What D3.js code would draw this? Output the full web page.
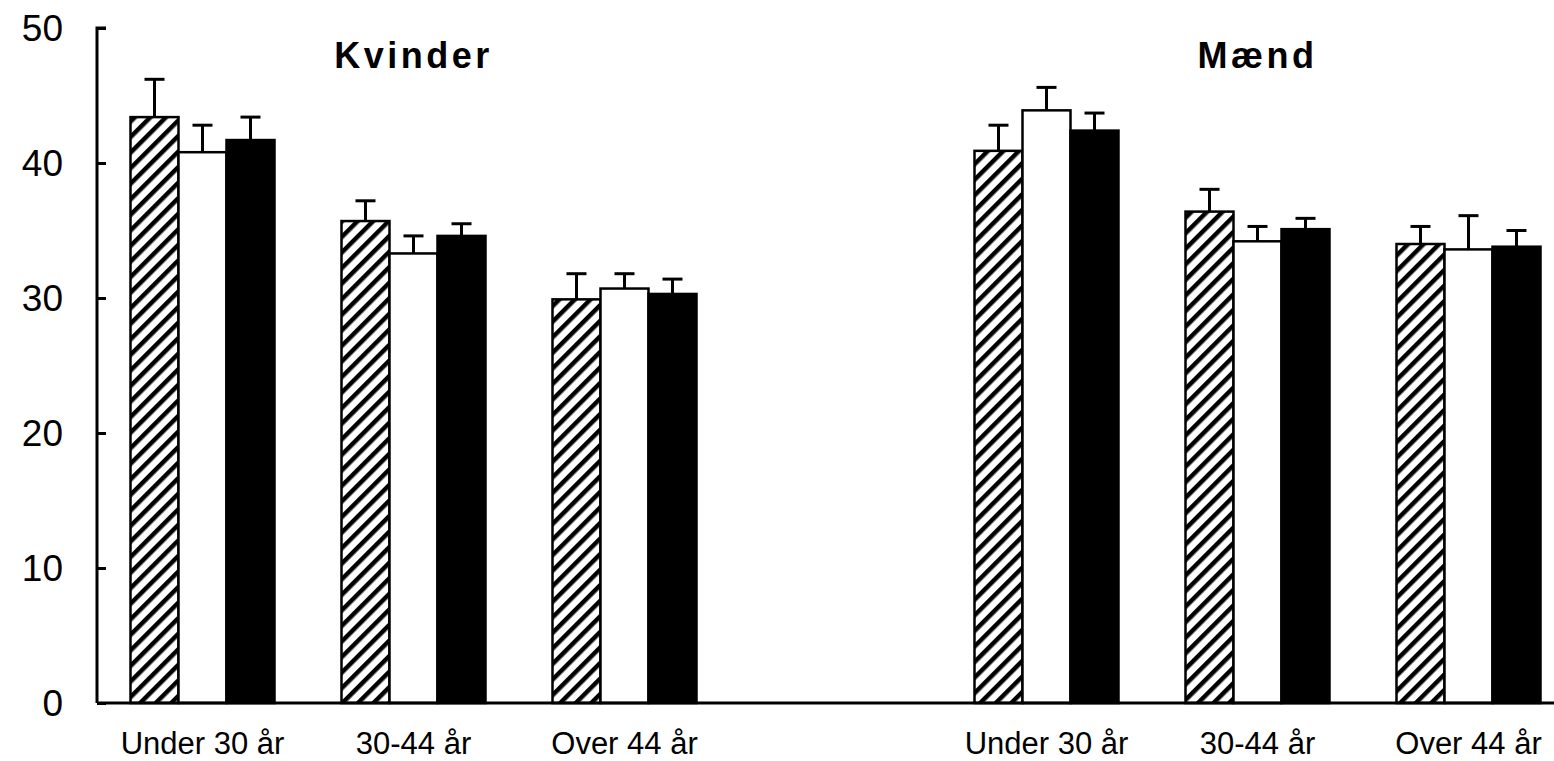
<!DOCTYPE html>
<html>
<head>
<meta charset="utf-8">
<script src="https://cdn.jsdelivr.net/npm/d3@7"></script>
<style>
  body { margin: 0; background: #fff; }
  svg { display: block; font-family: Arial, 'Liberation Sans', sans-serif; }
</style>
</head>
<body>
<div id="chart"></div>
<script>
// data
const panels = ['Kvinder', 'Mænd'];
const ageGroups = ['Under 30 år', '30-44 år', 'Over 44 år'];
const seriesKeys = ['hatched', 'white', 'black'];

// mean values, one array per panel, per series (order = ageGroups)
const kvinderHatched = [43.4, 35.7, 29.9];
const kvinderWhite = [40.8, 33.3, 30.7];
const kvinderBlack = [41.7, 34.6, 30.3];
const maendHatched = [40.9, 36.4, 34.0];
const maendWhite = [43.9, 34.2, 33.6];
const maendBlack = [42.4, 35.1, 33.8];

// error bar (upper) sizes
const kvinderHatchedErr = [2.8, 1.5, 1.9];
const kvinderWhiteErr = [2.0, 1.3, 1.1];
const kvinderBlackErr = [1.7, 0.9, 1.1];
const maendHatchedErr = [1.9, 1.65, 1.3];
const maendWhiteErr = [1.7, 1.1, 2.5];
const maendBlackErr = [1.3, 0.8, 1.2];

const yTicks = [0, 10, 20, 30, 40, 50];

const values = {
	Kvinder: { hatched: kvinderHatched, white: kvinderWhite, black: kvinderBlack },
	Mænd: { hatched: maendHatched, white: maendWhite, black: maendBlack },
};
const errors = {
	Kvinder: { hatched: kvinderHatchedErr, white: kvinderWhiteErr, black: kvinderBlackErr },
	Mænd: { hatched: maendHatchedErr, white: maendWhiteErr, black: maendBlackErr },
};

// slots: 3 groups, an empty gap, 3 groups
const slots = [];
panels.forEach((p, i) => {
	ageGroups.forEach((a) => slots.push(p + '|' + a));
	if (i === 0) slots.push('gap');
});

const rows = [];
panels.forEach((p) => {
	ageGroups.forEach((a, i) => {
		seriesKeys.forEach((s) => {
			rows.push({ panel: p, age: a, series: s, value: values[p][s][i], err: errors[p][s][i] });
		});
	});
});

const width = 1554, height = 761;
const axisX = 97;

const svg = d3.select('#chart')
	.append('svg')
	.attr('width', width)
	.attr('height', height);

// hatch pattern
svg.append('defs')
	.append('pattern')
	.attr('id', 'hatch')
	.attr('patternUnits', 'userSpaceOnUse')
	.attr('width', 11)
	.attr('height', 11)
	.attr('patternTransform', 'rotate(45)')
	.append('rect')
	.attr('width', 4.5)
	.attr('height', 11)
	.attr('fill', '#000');

const x0 = d3.scaleBand()
	.domain(slots)
	.range([axisX, 1574])
	.paddingInner(0.3175)
	.paddingOuter(0.3175 / 2);

const x1 = d3.scaleBand()
	.domain(seriesKeys)
	.range([0, x0.bandwidth()]);

const y = d3.scaleLinear()
	.domain([0, 50])
	.range([703, 28]);

const fills = { hatched: 'url(#hatch)', white: '#fff', black: '#000' };

// error bars (drawn first so bar outlines sit on top)
const eb = svg.append('g')
	.selectAll('g')
	.data(rows)
	.join('g')
	.attr('transform', (d) => `translate(${x0(d.panel + '|' + d.age) + x1(d.series) + x1.bandwidth() / 2},0)`);
eb.append('line')
	.attr('y1', (d) => y(d.value))
	.attr('y2', (d) => y(d.value + d.err))
	.attr('stroke', '#000')
	.attr('stroke-width', 3);
eb.append('line')
	.attr('x1', -10)
	.attr('x2', 10)
	.attr('y1', (d) => y(d.value + d.err))
	.attr('y2', (d) => y(d.value + d.err))
	.attr('stroke', '#000')
	.attr('stroke-width', 3);

// bars: hatched has a white background under the pattern
const bars = svg.append('g')
	.selectAll('g')
	.data(rows)
	.join('g');
bars.filter((d) => d.series === 'hatched')
	.append('rect')
	.attr('x', (d) => x0(d.panel + '|' + d.age) + x1(d.series))
	.attr('y', (d) => y(d.value))
	.attr('width', x1.bandwidth())
	.attr('height', (d) => y(0) - y(d.value))
	.attr('fill', '#fff');
bars.append('rect')
	.attr('x', (d) => x0(d.panel + '|' + d.age) + x1(d.series))
	.attr('y', (d) => y(d.value))
	.attr('width', x1.bandwidth())
	.attr('height', (d) => y(0) - y(d.value))
	.attr('fill', (d) => fills[d.series])
	.attr('stroke', '#000')
	.attr('stroke-width', 2.5);

// y axis
const yAxis = svg.append('g')
	.attr('transform', `translate(${axisX},0)`)
	.call(d3.axisRight(y).tickValues(yTicks).tickSize(9).tickFormat(''));
yAxis.select('.domain').attr('d', `M9,${y(50)}H0V${y(0)}`).attr('stroke-width', 3);
yAxis.selectAll('.tick line').attr('stroke-width', 3);

svg.append('g')
	.selectAll('text')
	.data(yTicks)
	.join('text')
	.attr('x', 63)
	.attr('y', (d) => y(d))
	.attr('dy', '0.36em')
	.attr('text-anchor', 'end')
	.attr('font-size', 37)
	.text((d) => d);

// x axis baseline
svg.append('line')
	.attr('x1', axisX)
	.attr('x2', width)
	.attr('y1', y(0))
	.attr('y2', y(0))
	.attr('stroke', '#000')
	.attr('stroke-width', 3);

// category labels
svg.append('g')
	.selectAll('text')
	.data(slots.filter((s) => s !== 'gap'))
	.join('text')
	.attr('x', (d) => x0(d) + x0.bandwidth() / 2)
	.attr('y', 754)
	.attr('text-anchor', 'middle')
	.attr('font-size', 31)
	.text((d) => d.split('|')[1]);

// panel titles over the middle group
svg.append('g')
	.selectAll('text')
	.data(panels)
	.join('text')
	.attr('x', (d) => x0(d + '|' + ageGroups[1]) + x0.bandwidth() / 2)
	.attr('y', 68)
	.attr('text-anchor', 'middle')
	.attr('font-size', 36)
	.attr('font-weight', 'bold')
	.attr('letter-spacing', 3.5)
	.text((d) => d);
</script>
</body>
</html>
